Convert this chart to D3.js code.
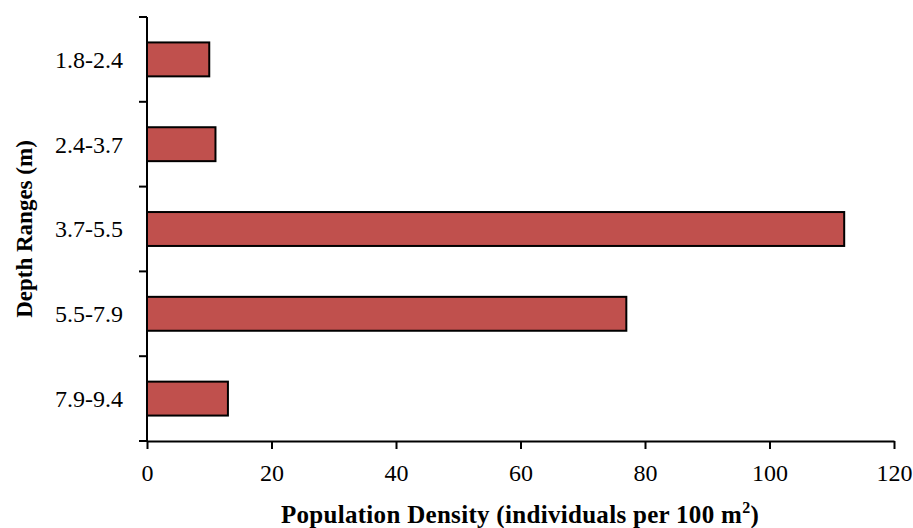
<!DOCTYPE html>
<html>
<head>
<meta charset="utf-8">
<script src="https://cdn.jsdelivr.net/npm/d3@7"></script>
<style>
  body { margin: 0; background: #fff; }
  text { font-family: "Liberation Serif", "DejaVu Serif", serif; fill: #000; }
</style>
</head>
<body>
<div id="chart"></div>
<script>
// depth ranges top to bottom
var depths = ["1.8-2.4", "2.4-3.7", "3.7-5.5", "5.5-7.9", "7.9-9.4"];
// population density per 100 m2
var density = [10, 11, 112, 77, 13];
var xTicks = [0, 20, 40, 60, 80, 100, 120];

var width = 913, height = 528;
var margin = { top: 17, right: 19, bottom: 87, left: 147 };

var svg = d3.select("#chart").append("svg")
    .attr("width", width)
    .attr("height", height);

var x = d3.scaleLinear()
    .domain([0, 120])
    .range([margin.left, width - margin.right]);

var y = d3.scaleBand()
    .domain(depths)
    .range([margin.top, height - margin.bottom])
    .paddingInner(0.6)
    .paddingOuter(0.3);

var data = depths.map(function (d, i) { return { depth: d, value: density[i] }; });

//bars
svg.selectAll(".bar")
    .data(data)
    .enter()
    .append("rect")
    .attr("class", "bar")
    .attr("x", x(0))
    .attr("y", function (d) { return y(d.depth); })
    .attr("width", function (d) { return x(d.value) - x(0); })
    .attr("height", y.bandwidth())
    .attr("fill", "#C0504D")
    .attr("stroke", "#000")
    .attr("stroke-width", 2);

// x axis
var xAxis = svg.append("g")
    .attr("transform", "translate(0," + (height - margin.bottom) + ")")
    .call(d3.axisBottom(x).tickValues(xTicks).tickSize(8).tickSizeOuter(0).tickPadding(15));
xAxis.selectAll("path, line").attr("stroke", "#000").attr("stroke-width", 2);
xAxis.selectAll("text").style("font-size", "24px").style("font-family", "Liberation Serif");

// y axis - ticks on band boundaries, labels centered in bands
var bounds = depths.map(function (d) { return y(d) - y.step() * 0.3; });
bounds.push(height - margin.bottom);

var yAxis = svg.append("g");
yAxis.append("line")
    .attr("x1", x(0)).attr("x2", x(0))
    .attr("y1", margin.top).attr("y2", height - margin.bottom)
    .attr("stroke", "#000").attr("stroke-width", 2);
yAxis.selectAll(".ytick")
    .data(bounds)
    .enter()
    .append("line")
    .attr("x1", x(0) - 8).attr("x2", x(0))
    .attr("y1", function (d) { return d; })
    .attr("y2", function (d) { return d; })
    .attr("stroke", "#000").attr("stroke-width", 2);
yAxis.selectAll(".ylab")
    .data(depths)
    .enter()
    .append("text")
    .attr("x", x(0) - 24)
    .attr("y", function (d) { return y(d) + y.bandwidth() / 2; })
    .attr("dy", "0.35em")
    .attr("text-anchor", "end")
    .style("font-size", "24px")
    .text(function (d) { return d; });

// axis titles
var xt = svg.append("text")
    .attr("x", 520)
    .attr("y", 523)
    .attr("text-anchor", "middle")
    .style("font-size", "25px")
    .style("letter-spacing", "0.3px")
    .style("font-weight", "bold");
xt.append("tspan").text("Population Density (individuals per 100 m");
xt.append("tspan").attr("dy", -10).style("font-size", "16px").text("2");
xt.append("tspan").attr("dy", 10).text(")");

svg.append("text")
    .attr("transform", "translate(32,229) rotate(-90)")
    .attr("text-anchor", "middle")
    .style("font-size", "23px")
    .style("font-weight", "bold")
    .text("Depth Ranges (m)");
</script>
</body>
</html>
